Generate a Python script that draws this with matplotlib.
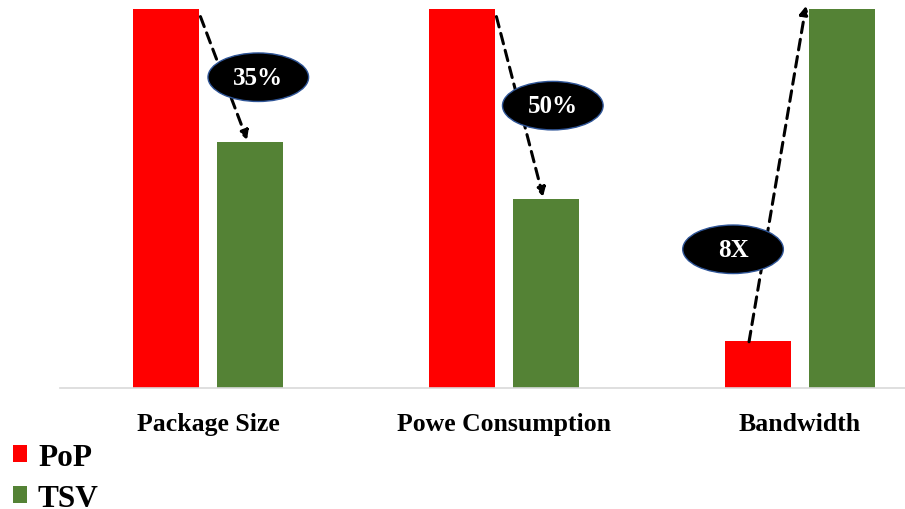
import matplotlib
matplotlib.use("Agg")
import matplotlib.pyplot as plt
import numpy as np
from matplotlib.patches import Ellipse, Patch

categories = ["Package Size", "Powe Consumption", "Bandwidth"]
pop_values = [100, 100, 12.5]
tsv_values = [65, 50, 100]
callouts = ["35%", "50%", "8X"]

RED = "#FF0000"
GREEN = "#548235"
SERIF = ["Liberation Serif", "DejaVu Serif"]

fig = plt.figure(figsize=(9.05, 5.10), dpi=100)
ax = fig.add_axes([60 / 905, 121 / 510, 845 / 905, 379 / 510])

x = np.arange(len(categories))
width = 0.223
off = 0.142
ax.bar(x - off, pop_values, width, color=RED, label="PoP")
ax.bar(x + off, tsv_values, width, color=GREEN, label="TSV")

ax.set_xlim(-0.5, 2.355)
ax.set_ylim(0, 100)
ax.set_yticks([])
ax.set_xticks(x)
ax.set_xticklabels(categories, fontfamily=SERIF, fontweight="bold", fontsize=18.5)
ax.tick_params(axis="x", length=0, pad=17)
for s in ["top", "right", "left"]:
    ax.spines[s].set_visible(False)
ax.spines["bottom"].set_color("#D9D9D9")
ax.spines["bottom"].set_linewidth(1.2)

arrow_kw = dict(arrowstyle="-|>,head_length=0.5,head_width=0.28", color="black",
                lw=2.2, linestyle=(0, (3.5, 2.2)), shrinkA=0, shrinkB=0)

# Reductions: arrow from PoP bar top-right toward TSV bar top
for i in range(2):
    ax.annotate("", xy=(x[i] + off - 0.01, tsv_values[i] + 0.5),
                xytext=(x[i] - off + width / 2 + 0.005, pop_values[i] - 2),
                arrowprops=arrow_kw, annotation_clip=False)
# Increase: arrow from PoP bar up to TSV bar top
ax.annotate("", xy=(x[2] + off - width / 2 - 0.01, tsv_values[2] + 0.8),
            xytext=(x[2] - off - 0.03, pop_values[2] - 0.3),
            arrowprops=arrow_kw, annotation_clip=False)

# Black callout ellipses
ell_centers = [(x[0] + 0.17, 82.0), (x[1] + 0.165, 74.5), (x[2] - 0.226, 36.6)]
for (cx, cy), txt in zip(ell_centers, callouts):
    e = Ellipse((cx, cy), 0.34, 12.8, facecolor="black", edgecolor="#2F5597",
                lw=1.0, zorder=5)
    ax.add_patch(e)
    ax.text(cx, cy, txt, color="white", fontfamily=SERIF, fontweight="bold",
            fontsize=18, ha="center", va="center", zorder=6)

handles = [Patch(facecolor=RED, label="PoP"), Patch(facecolor=GREEN, label="TSV")]
fig.legend(handles=handles, loc="upper left", bbox_to_anchor=(0.004, 0.148),
           frameon=False, prop=dict(family=SERIF, weight="bold", size=22.5),
           handlelength=0.45, handleheight=0.45, handletextpad=0.35,
           labelspacing=0.38, borderaxespad=0, borderpad=0.3)

fig.savefig("out.png", dpi=100)
